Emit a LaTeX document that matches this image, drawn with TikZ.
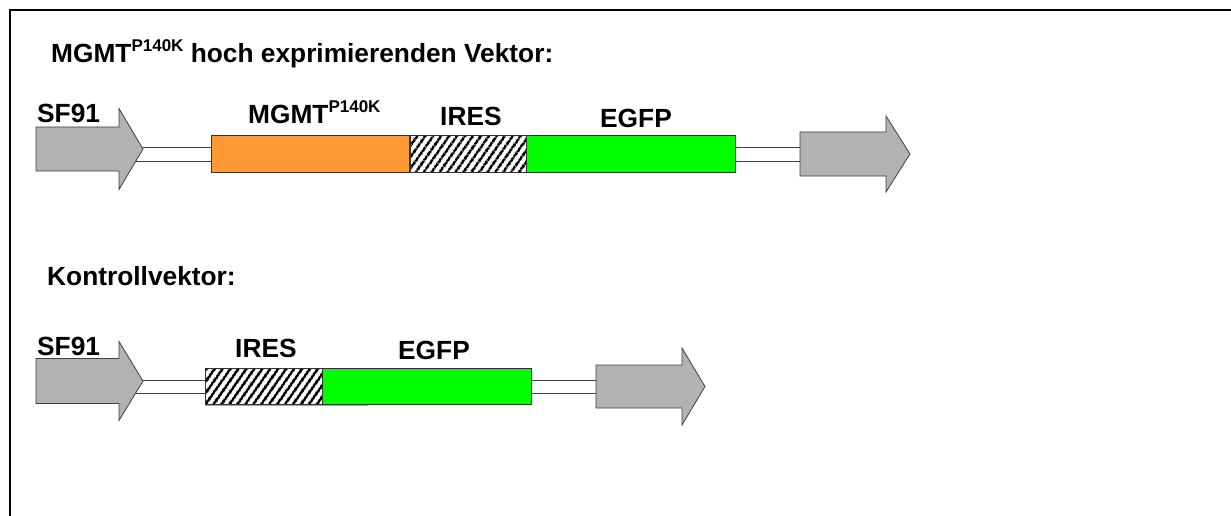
\documentclass[tikz,border=0pt]{standalone}
\usepackage{fontspec}
\setmainfont{Liberation Sans}
\usetikzlibrary{patterns.meta,calc}
\definecolor{orangeB}{RGB}{255,153,51}
\definecolor{greenB}{RGB}{0,255,0}
\definecolor{grayA}{RGB}{178,178,178}
\newcommand\mysup[1]{\raisebox{11pt}{\fontsize{17}{17}\selectfont #1}}
\begin{document}
\begin{tikzpicture}[x=1pt,y=-1pt,
  lbl/.style={font=\fontsize{26.3}{30}\selectfont\bfseries, anchor=base west, inner sep=0},
  seg/.style={draw=black!80, line width=0.8pt, minimum height=36.5pt, inner sep=0, anchor=west, rectangle},
  hatch/.style={seg, preaction={fill=white}, pattern={Lines[angle=55,distance=6.5pt,line width=3pt]}},
  promo/.style={fill=grayA, draw=black!75, line width=0.8pt},
  linker/.style={fill=white, draw=black!75, line width=0.8pt},
  ghost/.style={draw=black!35, line width=0.8pt},
]
\useasboundingbox (0,0) rectangle (1231,516);
\draw[line width=2.5pt] (10,516) -- (10,10) -- (1231,10);

% ---------- top vector ----------
\node[lbl] (title1) at (51,63) {MGMT\mysup{P140K} hoch exprimierenden Vektor:};
\coordinate (pA) at (36,149);
\coordinate (pB) at (800,154);
\draw[linker] ($(pA)+(80,-2)$) rectangle (211,161);
\draw[linker] (735,147) rectangle ($(pB)+(4,7)$);
\draw[ghost] (409,136) rectangle (571,172);
\node[seg, fill=orangeB, minimum width=198pt] (mgmt) at (211,154) {};
\node[hatch, minimum width=117pt] (ires1) at (409,154) {};
\node[seg, fill=greenB, minimum width=209pt] (egfp1) at (526,154) {};
\draw[promo] ($(pA)+(0,-22)$) -- ++(83,0) -- ++(0,-18.5) -- ++(24,40.5) -- ++(-24,40.5) -- ++(0,-18.5) -- ++(-83,0) -- cycle;
\draw[promo] ($(pB)+(0,-22)$) -- ++(86,0) -- ++(0,-16) -- ++(24,38) -- ++(-24,38) -- ++(0,-16) -- ++(-86,0) -- cycle;
\node[lbl] (sfA) at (37,123) {SF91};
\node[lbl] (lmgmt) at (248,124) {MGMT\mysup{P140K}};
\node[lbl] (lires1) at (440,125) {IRES};
\node[lbl] (legfp1) at (600,128) {EGFP};

% ---------- control vector ----------
\node[lbl] (title2) at (47,285) {Kontrollvektor:};
\coordinate (pC) at (36,381);
\coordinate (pD) at (596,386.5);
\draw[linker] ($(pC)+(80,-1)$) rectangle (205,393);
\draw[linker] (531,380) rectangle ($(pD)+(4,6.5)$);
\draw[ghost] (205,368) rectangle (367,405);
\node[hatch, minimum width=117pt] (ires2) at (205,386.5) {};
\node[seg, fill=greenB, minimum width=209pt] (egfp2) at (322,386.5) {};
\draw[promo] ($(pC)+(0,-22.5)$) -- ++(83,0) -- ++(0,-17) -- ++(24,39.5) -- ++(-24,39.5) -- ++(0,-17) -- ++(-83,0) -- cycle;
\draw[promo] ($(pD)+(0,-21.5)$) -- ++(86,0) -- ++(0,-17) -- ++(23,38.5) -- ++(-23,38.5) -- ++(0,-17) -- ++(-86,0) -- cycle;
\node[lbl] (sfC) at (37,355) {SF91};
\node[lbl] (lires2) at (235,357) {IRES};
\node[lbl] (legfp2) at (398,359) {EGFP};
\end{tikzpicture}
\end{document}
